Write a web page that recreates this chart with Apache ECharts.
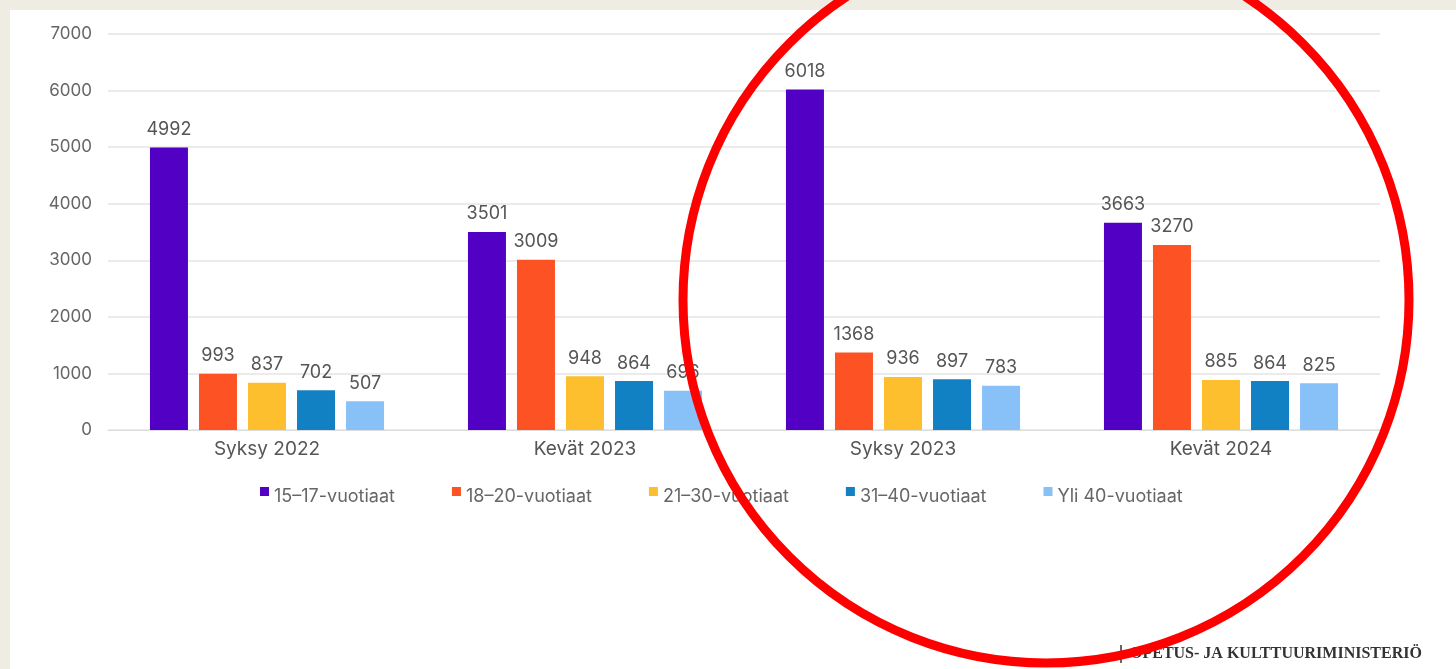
<!DOCTYPE html>
<html>
<head>
<meta charset="utf-8">
<script src="https://cdn.jsdelivr.net/npm/echarts@6/dist/echarts.min.js"></script>
<style>
  html, body { margin: 0; padding: 0; background: #efece4; }
  #chart { width: 1456px; height: 669px; }
</style>
</head>
<body>
<div id="chart"></div>
<script>
// kaudet ja ikäryhmät
const categories = ['Syksy 2022', 'Kevät 2023', 'Syksy 2023', 'Kevät 2024']
const seriesNames = ['15–17-vuotiaat', '18–20-vuotiaat', '21–30-vuotiaat', '31–40-vuotiaat', 'Yli 40-vuotiaat']
const age15to17 = [4992, 3501, 6018, 3663]
const age18to20 = [993, 3009, 1368, 3270]
const age21to30 = [837, 948, 936, 885]
const age31to40 = [702, 864, 897, 864]
const over40 = [507, 696, 783, 825]
const colors = ['#5200c4', '#fd5224', '#fdbf2d', '#1181c3', '#88c0f8']

const chart = echarts.init(document.getElementById('chart'))
const font = 'Inter, "Open Sans", sans-serif'

const seriesData = [age15to17, age18to20, age21to30, age31to40, over40]

// pieni neliö legendan yläreunaan
const legendIcon = 'path://M0,0 L9,0 L9,9 L0,9 Z M0,20 L0.01,20'

const option = {
  backgroundColor: '#efece4',
  textStyle: { fontFamily: font },
  legend: {
    data: seriesNames,
    top: 482,
    left: 255,
    icon: legendIcon,
    itemWidth: 9,
    itemHeight: 20,
    itemGap: 57,
    textStyle: { fontSize: 18, color: '#666', fontFamily: font }
  },
  grid: {
    left: 108,
    right: 76,
    top: 34,
    bottom: 239
  },
  xAxis: {
    type: 'category',
    data: categories,
    axisTick: { show: false },
    axisLine: { lineStyle: { color: '#dcdcdc', width: 1 } },
    axisLabel: { fontSize: 19, color: '#555', margin: 10, fontFamily: font }
  },
  yAxis: {
    type: 'value',
    min: 0,
    max: 7000,
    interval: 1000,
    axisLabel: {
      fontSize: 17,
      color: '#666',
      margin: 16,
      fontFamily: font,
      formatter: v => String(v)
    },
    splitLine: { lineStyle: { color: '#e4e4e4', width: 1.5 } }
  },
  series: seriesNames.map((name, i) => ({
    name: name,
    type: 'bar',
    data: seriesData[i],
    barWidth: 38,
    barGap: '29%',
    itemStyle: { color: colors[i] },
    label: {
      show: true,
      position: 'top',
      distance: 9,
      fontSize: 18,
      color: '#555',
      fontFamily: font
    }
  })),
  graphic: [
    {
      type: 'rect',
      z: -10,
      silent: true,
      shape: { x: 10, y: 10, width: 1446, height: 659 },
      style: { fill: '#ffffff' }
    },
    {
      type: 'line',
      z: 50,
      shape: { x1: 1121, y1: 645, x2: 1121, y2: 663 },
      style: { stroke: '#333', lineWidth: 1.5 }
    },
    {
      type: 'text',
      z: 50,
      left: 1130,
      top: 646,
      style: {
        text: 'OPETUS- JA KULTTUURIMINISTERIÖ',
        font: 'bold 16px "Liberation Serif", "DejaVu Serif", serif',
        fill: '#333'
      }
    },
    {
      type: 'circle',
      z: 100,
      silent: true,
      shape: { cx: 1046, cy: 300, r: 363 },
      style: { fill: 'none', stroke: '#ff0000', lineWidth: 9 }
    }
  ]
}

chart.setOption(option)
</script>
</body>
</html>
